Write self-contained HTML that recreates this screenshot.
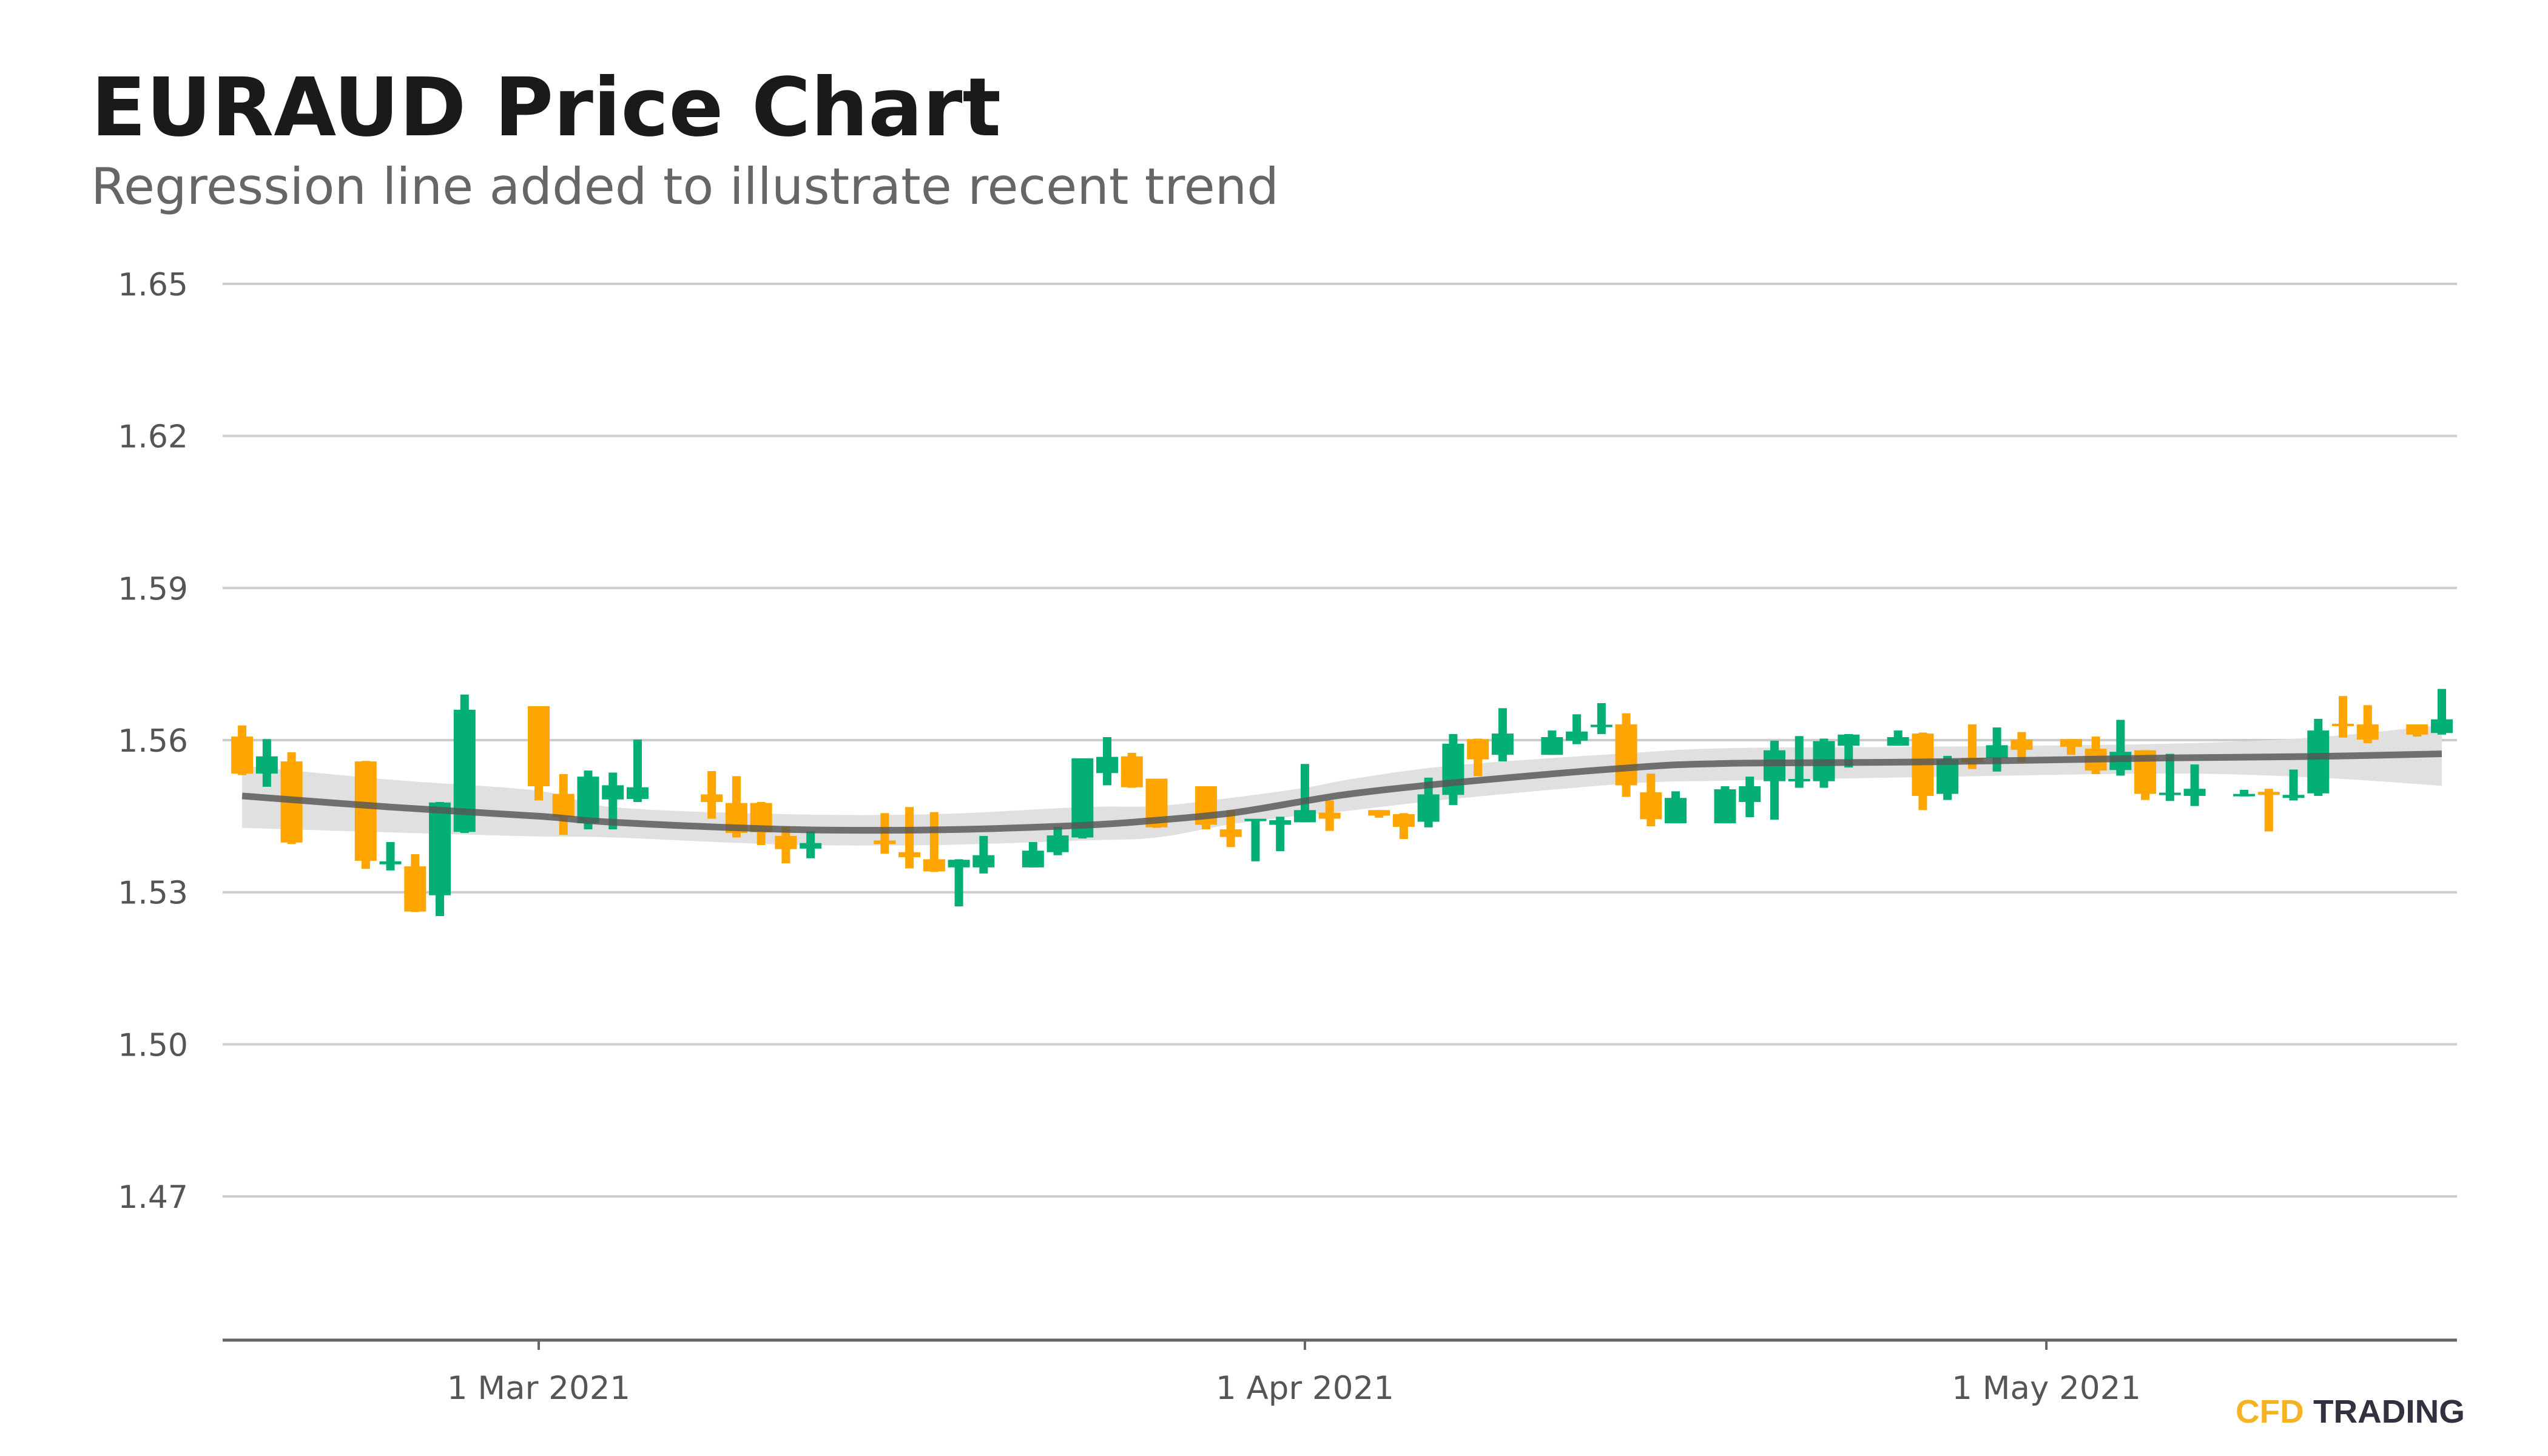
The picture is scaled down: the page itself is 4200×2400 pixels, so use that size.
<!DOCTYPE html>
<html><head><meta charset="utf-8">
<style>
html,body{margin:0;padding:0;background:#fff;}
svg{display:block;font-family:"DejaVu Sans","Liberation Sans",sans-serif;}
</style></head>
<body>
<svg id="chart" width="4200" height="2400" viewBox="0 0 4200 2400" xmlns="http://www.w3.org/2000/svg">
<rect x="0" y="0" width="4200" height="2400" fill="#ffffff"/>
<text x="150" y="223" font-size="133" font-weight="bold" fill="#1a1a1a">EURAUD Price Chart</text>
<text x="150" y="336" font-size="83" fill="#666666">Regression line added to illustrate recent trend</text>
<g id="grid"></g>
<g id="yticks"></g>
<g id="band"></g>
<g id="candles"></g>
<g id="trend"></g>
<g id="xaxis"></g>
<text x="3685" y="2345" font-size="54" font-weight="bold" font-family="Liberation Sans, sans-serif" textLength="378" lengthAdjust="spacingAndGlyphs"><tspan fill="#F5B323">CFD</tspan><tspan fill="#33313F"> TRADING</tspan></text>
</svg>
<script>
const dates = ["2021-02-17","2021-02-18","2021-02-19","2021-02-22","2021-02-23","2021-02-24","2021-02-25","2021-02-26","2021-03-01","2021-03-02","2021-03-03","2021-03-04","2021-03-05","2021-03-08","2021-03-09","2021-03-10","2021-03-11","2021-03-12","2021-03-15","2021-03-16","2021-03-17","2021-03-18","2021-03-19","2021-03-21","2021-03-22","2021-03-23","2021-03-24","2021-03-25","2021-03-26","2021-03-28","2021-03-29","2021-03-30","2021-03-31","2021-04-01","2021-04-02","2021-04-04","2021-04-05","2021-04-06","2021-04-07","2021-04-08","2021-04-09","2021-04-11","2021-04-12","2021-04-13","2021-04-14","2021-04-15","2021-04-16","2021-04-18","2021-04-19","2021-04-20","2021-04-21","2021-04-22","2021-04-23","2021-04-25","2021-04-26","2021-04-27","2021-04-28","2021-04-29","2021-04-30","2021-05-02","2021-05-03","2021-05-04","2021-05-05","2021-05-06","2021-05-07","2021-05-09","2021-05-10","2021-05-11","2021-05-12","2021-05-13","2021-05-14","2021-05-16","2021-05-17"];
const opens = [1.5607,1.5534,1.5558,1.5558,1.5355,1.5351,1.5294,1.5419,1.5667,1.5494,1.5436,1.5483,1.5484,1.5493,1.5476,1.5476,1.5411,1.5386,1.5402,1.5379,1.5365,1.5349,1.5349,1.5349,1.5379,1.5408,1.5535,1.5568,1.5524,1.5509,1.5424,1.5441,1.5433,1.5438,1.5457,1.5462,1.5454,1.5439,1.5492,1.5602,1.5571,1.5571,1.5599,1.5628,1.5631,1.5497,1.5436,1.5436,1.5478,1.5519,1.5521,1.5519,1.5589,1.5589,1.5613,1.5494,1.5565,1.5565,1.5601,1.5602,1.5583,1.5541,1.5580,1.5494,1.5490,1.5490,1.5498,1.5486,1.5495,1.5632,1.5631,1.5631,1.5614];
const highs = [1.5629,1.5602,1.5576,1.5559,1.5399,1.5375,1.5478,1.5690,1.5667,1.5533,1.5540,1.5536,1.5601,1.5539,1.5529,1.5478,1.5430,1.5420,1.5456,1.5468,1.5458,1.5365,1.5411,1.5399,1.5429,1.5564,1.5606,1.5575,1.5524,1.5509,1.5462,1.5444,1.5449,1.5553,1.5481,1.5462,1.5456,1.5526,1.5612,1.5603,1.5663,1.5619,1.5651,1.5673,1.5653,1.5534,1.5499,1.5509,1.5528,1.5599,1.5608,1.5603,1.5612,1.5619,1.5615,1.5569,1.5631,1.5625,1.5616,1.5602,1.5607,1.5640,1.5580,1.5573,1.5552,1.5502,1.5504,1.5542,1.5642,1.5687,1.5669,1.5631,1.5701];
const lows = [1.5531,1.5508,1.5395,1.5346,1.5343,1.5261,1.5253,1.5417,1.5481,1.5413,1.5424,1.5424,1.5478,1.5445,1.5408,1.5393,1.5357,1.5367,1.5376,1.5347,1.5340,1.5272,1.5337,1.5349,1.5373,1.5406,1.5511,1.5506,1.5427,1.5424,1.5389,1.5361,1.5381,1.5438,1.5421,1.5447,1.5405,1.5428,1.5472,1.5529,1.5558,1.5571,1.5592,1.5612,1.5488,1.5430,1.5436,1.5436,1.5448,1.5443,1.5506,1.5506,1.5546,1.5589,1.5462,1.5482,1.5543,1.5538,1.5557,1.5571,1.5533,1.5530,1.5482,1.5480,1.5470,1.5489,1.5420,1.5481,1.5490,1.5605,1.5594,1.5607,1.5611];
const closes = [1.5534,1.5568,1.5398,1.5362,1.5361,1.5262,1.5477,1.5660,1.5509,1.5448,1.5528,1.5511,1.5507,1.5478,1.5417,1.5418,1.5385,1.5397,1.5395,1.5369,1.5341,1.5364,1.5373,1.5382,1.5412,1.5564,1.5567,1.5507,1.5428,1.5433,1.5409,1.5444,1.5442,1.5462,1.5445,1.5451,1.5429,1.5493,1.5593,1.5562,1.5613,1.5606,1.5617,1.5628,1.5511,1.5444,1.5486,1.5503,1.5509,1.5580,1.5521,1.5598,1.5611,1.5606,1.5490,1.5562,1.5556,1.5590,1.5581,1.5587,1.5540,1.5577,1.5494,1.5494,1.5504,1.5493,1.5492,1.5492,1.5619,1.5628,1.5601,1.5611,1.5641];
const trendDays = [-12,-6,0,3,10,16,22,25,28,31,33,37,44,48,56,66,72,77];
const trendMid = [1.5490,1.5468,1.5450,1.5438,1.5424,1.5423,1.5432,1.5442,1.5456,1.5480,1.5495,1.5516,1.5545,1.5554,1.5557,1.5565,1.5568,1.5573];
const trendLo = [1.5427,1.5418,1.5410,1.5408,1.5394,1.5393,1.5402,1.5408,1.5434,1.5452,1.5462,1.5484,1.5514,1.5520,1.5527,1.5534,1.5526,1.5510];
const trendHi = [1.5550,1.5522,1.5500,1.5468,1.5454,1.5454,1.5468,1.5470,1.5486,1.5506,1.5524,1.5550,1.5574,1.5584,1.5587,1.5593,1.5606,1.5630];
const yTicks = [1.47,1.50,1.53,1.56,1.59,1.62,1.65];
const yTickLabels = ["1.47","1.50","1.53","1.56","1.59","1.62","1.65"];
const xTickDates = ["2021-03-01","2021-04-01","2021-05-01"];
const xTickLabels = ["1 Mar 2021","1 Apr 2021","1 May 2021"];

const NS = "http://www.w3.org/2000/svg";
const X0 = 367, X1 = 4050, AXIS_Y = 2209;
const BASE = Date.UTC(2021,2,1);
function dayOf(s){const p=s.split('-');return (Date.UTC(+p[0],+p[1]-1,+p[2])-BASE)/86400000;}
function xScale(d){return 888 + 40.74*d;}
function yScale(v){return 1220 - (v-1.56)*250.7/0.03;}
function mk(tag, attrs, parent){const e=document.createElementNS(NS,tag);for(const k in attrs)e.setAttribute(k,attrs[k]);parent.appendChild(e);return e;}

const grid=document.getElementById('grid'), yt=document.getElementById('yticks');
yTicks.forEach((v,i)=>{
  const l=mk('line',{x1:X0,x2:X1,y1:yScale(v),y2:yScale(v),stroke:'#cccccc','stroke-width':4},grid);
  
  
  const t=mk('text',{x:310,y:yScale(v)+19,'font-size':52,fill:'#555555','text-anchor':'end'},yt);
  t.textContent=yTickLabels[i];
  
  
});

function smoothPath(xs,ys){
  let d='M'+xs[0]+','+ys[0];
  for(let i=0;i<xs.length-1;i++){
    const x0=xs[Math.max(i-1,0)],y0=ys[Math.max(i-1,0)],x1=xs[i],y1=ys[i],x2=xs[i+1],y2=ys[i+1];
    const x3=xs[Math.min(i+2,xs.length-1)],y3=ys[Math.min(i+2,xs.length-1)];
    d+=' C'+(x1+(x2-x0)/6)+','+(y1+(y2-y0)/6)+' '+(x2-(x3-x1)/6)+','+(y2-(y3-y1)/6)+' '+x2+','+y2;
  }
  return d;
}
const tx=trendDays.map(xScale);
const band=document.getElementById('band');
const hiP=smoothPath(tx,trendHi.map(yScale));
const loP=smoothPath(tx.slice().reverse(),trendLo.map(yScale).reverse());
const bp=mk('path',{d:hiP+' L'+loP.slice(1)+' Z',fill:'#e0e0e0'},band);



const cg=document.getElementById('candles');
dates.forEach((ds,i)=>{
  const x=xScale(dayOf(ds));
  const up=closes[i]>=opens[i];
  const col=up?'#03AF74':'#FFA500';
  const g=mk('g',{},cg);
  
  
  const w=mk('rect',{x:x-7,y:yScale(highs[i]),width:14,height:Math.max(yScale(lows[i])-yScale(highs[i]),2),fill:col},g);
  
  
  const top=yScale(Math.max(opens[i],closes[i])), bot=yScale(Math.min(opens[i],closes[i]));
  const h=Math.max(bot-top,4);
  const b=mk('rect',{x:x-18,y:top-(h-(bot-top))/2,width:36,height:h,fill:col},g);
  
  
});

const tg=document.getElementById('trend');
const tl=mk('path',{d:smoothPath(tx,trendMid.map(yScale)),fill:'none',stroke:'#555555','stroke-opacity':0.82,'stroke-width':11},tg);



const xa=document.getElementById('xaxis');
const al=mk('line',{x1:X0,x2:X1,y1:AXIS_Y,y2:AXIS_Y,stroke:'#666666','stroke-width':5},xa);


xTickDates.forEach((ds,i)=>{
  const x=xScale(dayOf(ds));
  const tk=mk('line',{x1:x,x2:x,y1:AXIS_Y,y2:AXIS_Y+16,stroke:'#666666','stroke-width':4},xa);
  
  
  const t=mk('text',{x:x,y:2306,'font-size':53,fill:'#555555','text-anchor':'middle'},xa);
  t.textContent=xTickLabels[i];
  
  
});
</script>
</body></html>
